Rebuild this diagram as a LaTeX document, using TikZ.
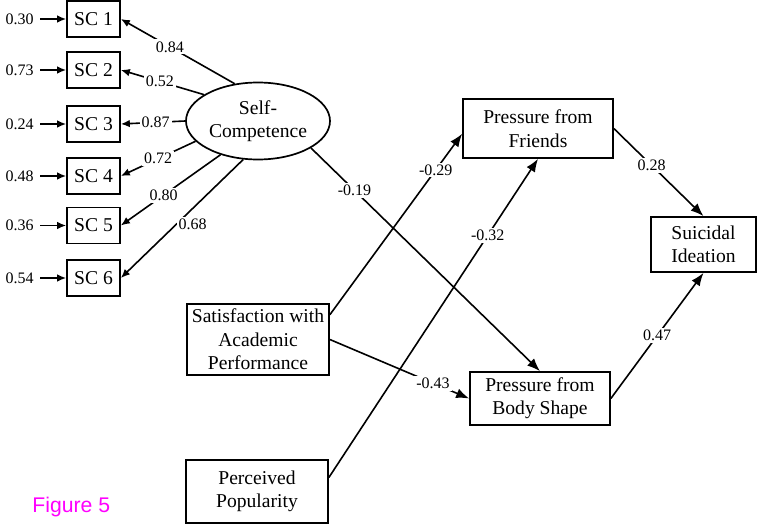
\documentclass[tikz,border=0pt]{standalone}
\usepackage{fontspec}
\setmainfont{Liberation Serif}
\newfontfamily\figfont{Liberation Sans}
\usetikzlibrary{arrows.meta,shapes.geometric}
\definecolor{figmagenta}{RGB}{255,0,255}

\begin{document}
\begin{tikzpicture}[x=0.5pt, y=-0.5pt, >=Latex,
  every node/.style={font=\fontsize{9.8}{11.7}\selectfont},
  box/.style={draw, line width=0.85pt, align=center, inner sep=0pt},
  lbl/.style={font=\fontsize{8}{9}\selectfont, fill=white, inner sep=1pt},
  link/.style={-{Latex[length=6.5pt,width=5pt]}, line width=0.8pt},
  load/.style={-{Latex[length=4.5pt,width=3.8pt]}, line width=0.8pt}]

\path[use as bounding box] (0,0) rectangle (757,524);

% Indicators with error terms
\foreach \i/\y/\e in {1/19/0.30, 2/70/0.73, 3/124/0.24,
                      4/176/0.48, 5/225.5/0.36, 6/278/0.54} {
  \node[box, minimum width=26.5pt, minimum height=18pt] (sc\i) at (93.5,\y) {SC \i};
  \node[font=\fontsize{8}{9}\selectfont, anchor=east, inner xsep=3pt]
    (err\i) at (40,\y) {\e};
  \draw[load] (err\i) -- (sc\i);
}

% Latent factor
\node[ellipse, draw, line width=0.85pt, inner sep=0pt, align=center,
      minimum width=72pt, minimum height=38.5pt] (selfc) at (258,121)
  {Self-\\Competence};

% Loadings (anchor angle / label pos / label anchor / value)
\foreach \i/\a/\p/\an/\v in {1/122/0.57/center/0.84, 2/154/0.53/center/0.52,
                             3/180/0.46/center/0.87, 4/198/0.50/center/0.72,
                             5/222/0.57/center/0.80, 6/249/0.55/west/0.68} {
  \draw[load] (selfc.\a) -- node[lbl, pos=\p, anchor=\an] {\v} (sc\i.east);
}

% Predictors
\node[box, minimum width=71pt, minimum height=35.5pt] (sat) at (258,339.5)
  {Satisfaction with\\Academic\\Performance};
\node[box, minimum width=71pt, minimum height=31.5pt] (pop) at (257,491.5)
  {Perceived\\Popularity};

% Mediators
\node[box, minimum width=75pt, minimum height=29.5pt] (friends) at (538,128.5)
  {Pressure from\\Friends};
\node[box, minimum width=70pt, minimum height=26.5pt] (body) at (540,398.5)
  {Pressure from\\Body Shape};

% Outcome
\node[box, minimum width=52.5pt, minimum height=27.5pt] (si) at (703.5,244.5)
  {Suicidal\\Ideation};

% Structural paths
\draw[link] (sat.19) -- node[lbl, pos=0.80] {-0.29} (friends.184);
\draw[link] (pop.11) -- node[lbl, pos=0.76] {-0.32} (friends.south);
\draw[link] (selfc.333) -- node[lbl, pos=0.19] {-0.19} (body.north);
\draw[link] (sat.east) -- node[lbl, pos=0.74] {-0.43} (body.west);
\draw[link] (friends.east) -- node[lbl, pos=0.42] {0.28} (si.north);
\draw[link] (body.east) -- node[lbl, pos=0.50] {0.47} (si.south);

% Caption
\node[font=\figfont\fontsize{10.6}{12}\selectfont, text=figmagenta,
      anchor=base west, inner sep=0pt] (fig) at (32,513) {Figure 5};
\end{tikzpicture}
\end{document}
